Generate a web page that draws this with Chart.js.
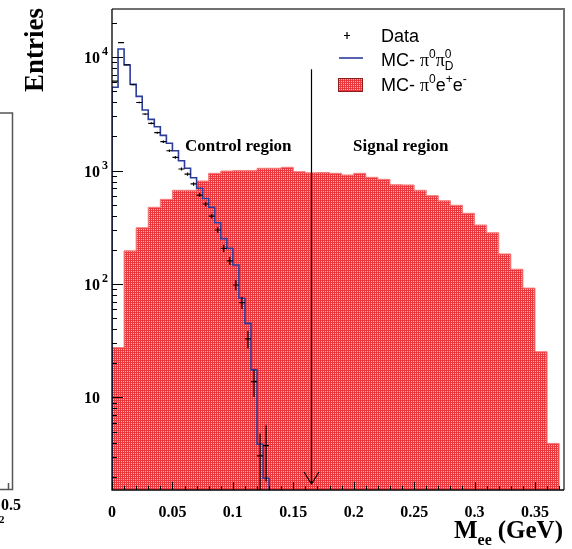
<!DOCTYPE html>
<html>
<head>
<meta charset="utf-8">
<script src="https://cdn.jsdelivr.net/npm/chart.js@4.4.1/dist/chart.umd.min.js"></script>
<style>
  html, body { margin: 0; padding: 0; background: #fff; }
  canvas { display: block; }
</style>
</head>
<body>
<canvas id="chart" width="572" height="549"></canvas>
<script>
// axis ranges
const xMin = 0, xMax = 0.374;
const yMin = 1.53, yMax = 26500;

// MC pi0 e+e- (red, 0.01 GeV bins starting at 0)
const redBinWidth = 0.01;
const redCounts = [27.5, 196, 313, 474, 557, 669, 669, 808, 945, 990, 1000, 1000, 1046, 1046, 1067,
  976, 954, 960, 945, 913, 945, 871, 836, 750, 746, 669, 600, 542, 494, 420, 331, 283, 184, 135,
  92, 25.3, 3.94];

// MC pi0 pi0_D (blue, 0.005 GeV bins starting at 0)
const blueBinWidth = 0.005;
const blueCounts = [5410, 11760, 8500, 5750, 4500, 3410, 2825, 2432, 2040, 1737, 1494, 1220, 1046,
  864, 697, 567, 474, 347, 251, 206, 147, 74.8, 45, 17.5, 3.87, 1.94];

// Data (same binning as blue), errors are sqrt(N)
const dataCounts = [6145, 13370, 8550, 5700, 3973, 3147, 2605, 2153, 1794, 1494, 1307, 1031, 931,
  761, 608, 507, 397, 299, 206, 160, 98, 68.4, 32.8, 13.8, 3.06, 3.76];

const xTickValues = [0, 0.05, 0.1, 0.15, 0.2, 0.25, 0.3, 0.35];
const xTickLabels = ['0', '0.05', '0.1', '0.15', '0.2', '0.25', '0.3', '0.35'];
const yTickValues = [10, 100, 1000, 10000];
const yTickExps = ['', '2', '3', '4'];

// cut arrow
const cutValue = 0.165;
const arrowTop = 7800, arrowTip = 1.73;

const SERIF = '"Liberation Serif", "Times New Roman", serif';
const SANS = '"Liberation Sans", Arial, Helvetica, sans-serif';
const BLUE = '#2c3c9c';

function stepPoints(counts, width, startAtFloor) {
  const pts = counts.map((v, i) => ({ x: i * width, y: v }));
  if (startAtFloor) pts.unshift({ x: 0, y: yMin });
  pts.push({ x: counts.length * width, y: yMin });
  return pts;
}

function errorPoints(counts, width) {
  const pts = [];
  counts.forEach((v, i) => {
    const c = (i + 0.5) * width;
    const e = Math.sqrt(v);
    pts.push({ x: c - width / 2, y: v }, { x: c + width / 2, y: v }, { x: c, y: null });
    pts.push({ x: c, y: v - e }, { x: c, y: v + e }, { x: c, y: null });
  });
  return pts;
}

function redPattern(ctx) {
  const c = document.createElement('canvas');
  c.width = 2; c.height = 2;
  const g = c.getContext('2d');
  g.fillStyle = '#ec383c';
  g.fillRect(0, 0, 2, 2);
  g.fillStyle = '#fcbcbc';
  g.fillRect(1, 1, 1, 1);
  return ctx.createPattern(c, 'repeat');
}

// draw text pieces one after another
function rich(ctx, x, y, parts) {
  let cx = x;
  for (const p of parts) {
    ctx.font = p.font;
    ctx.fillText(p.text, cx, y + (p.dy || 0));
    const w = ctx.measureText(p.text).width;
    if (!p.keep) cx += w;
  }
  return cx;
}

const rootStyle = {
  id: 'rootStyle',
  afterDatasetsDraw(chart) {
    const { ctx, chartArea: a, scales: { x, y } } = chart;
    ctx.save();

    // frame
    ctx.strokeStyle = '#707070';
    ctx.lineWidth = 2;
    ctx.beginPath();
    ctx.moveTo(a.left, a.top);
    ctx.lineTo(a.right, a.top);
    ctx.lineTo(a.right, a.bottom);
    ctx.stroke();
    ctx.strokeStyle = '#000';
    ctx.lineWidth = 1.3;
    ctx.beginPath();
    ctx.moveTo(a.left, a.top);
    ctx.lineTo(a.left, a.bottom);
    ctx.lineTo(a.right, a.bottom);
    ctx.stroke();

    // ticks, pointing inwards
    ctx.lineWidth = 1;
    for (let k = 0; k * 0.01 <= xMax; k++) {
      const px = Math.round(x.getPixelForValue(k * 0.01)) + 0.5;
      ctx.beginPath();
      ctx.moveTo(px, a.bottom);
      ctx.lineTo(px, a.bottom - (k % 5 === 0 ? 8 : 4));
      ctx.stroke();
    }
    for (let d = 0; d <= 4; d++) {
      for (let k = 1; k <= 9; k++) {
        const v = k * Math.pow(10, d);
        if (v < yMin || v > yMax) continue;
        const py = Math.round(y.getPixelForValue(v)) + 0.5;
        ctx.beginPath();
        ctx.moveTo(a.left, py);
        ctx.lineTo(a.left + (k === 1 ? 11 : 5), py);
        ctx.stroke();
      }
    }

    // cut arrow
    const ax = Math.round(x.getPixelForValue(cutValue)) + 0.5;
    const ay0 = y.getPixelForValue(arrowTop);
    const ay1 = y.getPixelForValue(arrowTip);
    ctx.strokeStyle = '#000';
    ctx.lineWidth = 1.2;
    ctx.beginPath();
    ctx.moveTo(ax, ay0);
    ctx.lineTo(ax, ay1);
    ctx.moveTo(ax - 7.5, ay1 - 12);
    ctx.lineTo(ax, ay1);
    ctx.lineTo(ax + 7.5, ay1 - 12);
    ctx.stroke();
    ctx.restore();
  },
  afterDraw(chart) {
    const { ctx, scales: { y } } = chart;
    ctx.save();
    ctx.fillStyle = '#000';
    ctx.textBaseline = 'alphabetic';

    // y tick labels 10^n
    yTickValues.forEach((v, i) => {
      const py = y.getPixelForValue(v);
      ctx.font = 'bold 16px ' + SERIF;
      ctx.textAlign = 'right';
      ctx.fillText('10', 100, py + 6);
      if (yTickExps[i]) {
        ctx.font = 'bold 12px ' + SERIF;
        ctx.textAlign = 'left';
        ctx.fillText(yTickExps[i], 102, py - 2);
      }
    });

    // axis titles
    ctx.save();
    ctx.translate(43, 8);
    ctx.rotate(-Math.PI / 2);
    ctx.font = 'bold 27px ' + SERIF;
    ctx.textAlign = 'right';
    ctx.fillText('Entries', 0, 0);
    ctx.restore();

    ctx.textAlign = 'right';
    ctx.font = 'bold 25px ' + SERIF;
    ctx.fillText('(GeV)', 563, 538);
    const wGeV = ctx.measureText('(GeV)').width;
    ctx.font = 'bold 16px ' + SERIF;
    ctx.fillText('ee', 563 - wGeV - 6, 545);
    const wee = ctx.measureText('ee').width;
    ctx.font = 'bold 25px ' + SERIF;
    ctx.fillText('M', 563 - wGeV - 6 - wee, 538);

    // region labels
    ctx.textAlign = 'left';
    ctx.font = 'bold 17px ' + SERIF;
    ctx.fillText('Control region', 185, 151);
    ctx.fillText('Signal region', 353, 151);

    // legend
    ctx.strokeStyle = '#000';
    ctx.lineWidth = 1.2;
    ctx.beginPath();
    ctx.moveTo(344, 35.5); ctx.lineTo(350, 35.5);
    ctx.moveTo(347, 32); ctx.lineTo(347, 39);
    ctx.stroke();
    ctx.font = '18px ' + SANS;
    ctx.fillText('Data', 381, 42);

    ctx.strokeStyle = BLUE;
    ctx.lineWidth = 1.6;
    ctx.beginPath();
    ctx.moveTo(339, 58); ctx.lineTo(363, 58);
    ctx.stroke();
    const big = '18px ' + SANS, small = '12px ' + SANS, pi = '18px ' + SERIF;
    rich(ctx, 381, 66, [
      { text: 'MC- ', font: big },
      { text: 'π', font: pi },
      { text: '0', font: small, dy: -8 },
      { text: 'π', font: pi },
      { text: '0', font: small, dy: -8, keep: true },
      { text: 'D', font: small, dy: 4 }
    ]);

    ctx.fillStyle = redPattern(ctx);
    ctx.fillRect(338, 78, 25, 14);
    ctx.strokeStyle = '#8a1c1c';
    ctx.lineWidth = 1;
    ctx.strokeRect(338.5, 78.5, 24, 13);
    ctx.fillStyle = '#000';
    rich(ctx, 381, 91, [
      { text: 'MC- ', font: big },
      { text: 'π', font: pi },
      { text: '0', font: small, dy: -8 },
      { text: 'e', font: big },
      { text: '+', font: small, dy: -8 },
      { text: 'e', font: big },
      { text: '-', font: small, dy: -8 }
    ]);

    // edge of the neighbouring panel
    ctx.strokeStyle = '#555';
    ctx.lineWidth = 1.5;
    ctx.beginPath();
    ctx.moveTo(0, 113); ctx.lineTo(12.5, 113); ctx.lineTo(12.5, 489.5); ctx.lineTo(0, 489.5);
    ctx.moveTo(8.5, 489.5); ctx.lineTo(8.5, 483);
    ctx.stroke();
    ctx.font = 'bold 16px ' + SERIF;
    ctx.textAlign = 'left';
    ctx.fillText('0.5', 1, 510);
    ctx.font = 'bold 11px ' + SERIF;
    ctx.fillText('2', -1, 523);
    ctx.restore();
  }
};

const ctx = document.getElementById('chart').getContext('2d');

new Chart(ctx, {
  type: 'line',
  data: {
    datasets: [
      {
        label: 'Data',
        data: errorPoints(dataCounts, blueBinWidth),
        borderColor: '#000',
        borderWidth: 1.2,
        pointRadius: 0,
        spanGaps: false,
        order: 0
      },
      {
        label: 'MC- pi0 pi0_D',
        data: stepPoints(blueCounts, blueBinWidth, true),
        borderColor: BLUE,
        borderWidth: 1.6,
        pointRadius: 0,
        stepped: true,
        fill: false,
        order: 1
      },
      {
        label: 'MC- pi0 e+e-',
        data: stepPoints(redCounts, redBinWidth, false),
        borderColor: '#f37a7a',
        borderWidth: 1,
        backgroundColor: redPattern(ctx),
        pointRadius: 0,
        stepped: true,
        fill: 'start',
        order: 2
      }
    ]
  },
  options: {
    responsive: false,
    animation: false,
    devicePixelRatio: 1,
    events: [],
    layout: { padding: { top: 9, right: 8, left: 0, bottom: 0 } },
    plugins: { legend: { display: false }, tooltip: { enabled: false } },
    scales: {
      x: {
        type: 'linear',
        min: xMin,
        max: xMax,
        afterFit(scale) { scale.height = 59; },
        afterBuildTicks(scale) { scale.ticks = xTickValues.map(v => ({ value: v })); },
        grid: { display: false },
        border: { display: false },
        ticks: {
          autoSkip: false,
          maxRotation: 0,
          padding: 5,
          color: '#000',
          font: { family: SERIF, weight: 'bold', size: 16 },
          callback: (v, i) => xTickLabels[i]
        }
      },
      y: {
        type: 'logarithmic',
        min: yMin,
        max: yMax,
        afterFit(scale) { scale.width = 112; },
        grid: { display: false },
        border: { display: false },
        ticks: { display: false }
      }
    }
  },
  plugins: [rootStyle]
});
</script>
</body>
</html>
